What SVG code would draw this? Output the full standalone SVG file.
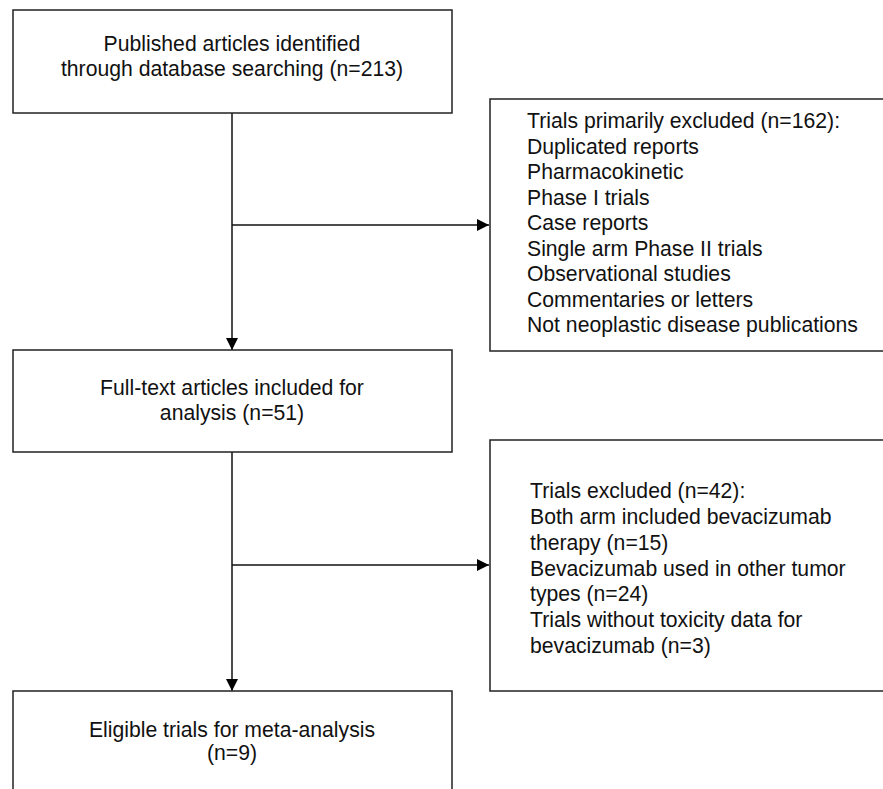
<svg xmlns="http://www.w3.org/2000/svg" width="883" height="789" viewBox="0 0 883 789">
<style>
.box{fill:#fff;stroke:#222;stroke-width:1.5}
.t{font-family:"Liberation Sans",Arial,sans-serif;font-size:21.2px;fill:#111}
.c{text-anchor:middle}
.ln{stroke:#111;stroke-width:1.5;fill:none}
</style>
<defs>
<marker id="ah" markerWidth="12" markerHeight="12" refX="12" refY="6" orient="auto" markerUnits="userSpaceOnUse">
<path d="M0,0 L12,6 L0,12 Z" fill="#000"/>
</marker>
</defs>
<rect width="883" height="789" fill="#fff"/>
<g id="connectors">
<line class="ln" x1="232" y1="113" x2="232" y2="350" marker-end="url(#ah)"/>
<line class="ln" x1="232" y1="225" x2="489" y2="225" marker-end="url(#ah)"/>
<line class="ln" x1="232" y1="452" x2="232" y2="691" marker-end="url(#ah)"/>
<line class="ln" x1="232" y1="565" x2="489" y2="565" marker-end="url(#ah)"/>
</g>
<g id="n1">
<rect class="box" x="13" y="10" width="439" height="103"/>
<text class="t c" x="232" y="51">Published articles identified</text>
<text class="t c" x="232" y="76">through database searching (n=213)</text>
</g>
<g id="n2">
<rect class="box" x="490" y="99" width="410" height="252"/>
<text class="t" x="527" y="128">Trials primarily excluded (n=162):</text>
<text class="t" x="527" y="153.5">Duplicated reports</text>
<text class="t" x="527" y="179">Pharmacokinetic</text>
<text class="t" x="527" y="204.5">Phase I trials</text>
<text class="t" x="527" y="230">Case reports</text>
<text class="t" x="527" y="255.5">Single arm Phase II trials</text>
<text class="t" x="527" y="281">Observational studies</text>
<text class="t" x="527" y="306.5">Commentaries or letters</text>
<text class="t" x="527" y="332">Not neoplastic disease publications</text>
</g>
<g id="n3">
<rect class="box" x="13" y="350" width="439" height="102"/>
<text class="t c" x="232" y="395">Full-text articles included for</text>
<text class="t c" x="232" y="420">analysis (n=51)</text>
</g>
<g id="n4">
<rect class="box" x="490" y="440" width="410" height="251"/>
<text class="t" x="530" y="498">Trials excluded (n=42):</text>
<text class="t" x="530" y="524">Both arm included bevacizumab</text>
<text class="t" x="530" y="550">therapy (n=15)</text>
<text class="t" x="530" y="576">Bevacizumab used in other tumor</text>
<text class="t" x="530" y="601">types (n=24)</text>
<text class="t" x="530" y="627">Trials without toxicity data for</text>
<text class="t" x="530" y="653">bevacizumab (n=3)</text>
</g>
<g id="n5">
<rect class="box" x="13" y="691" width="439" height="110"/>
<text class="t c" x="232" y="737">Eligible trials for meta-analysis</text>
<text class="t c" x="232" y="760">(n=9)</text>
</g>
</svg>
